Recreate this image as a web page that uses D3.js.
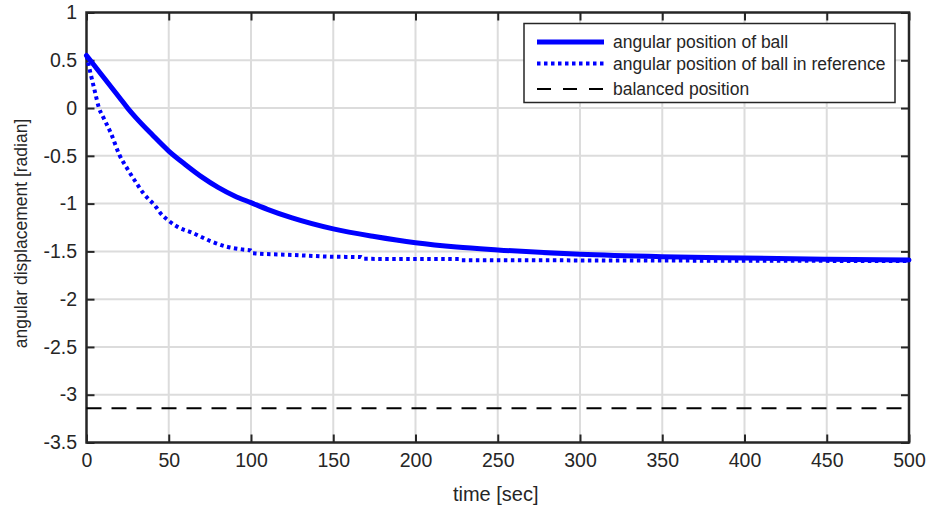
<!DOCTYPE html>
<html>
<head>
<meta charset="utf-8">
<title>angular position of ball</title>
<script src="https://d3js.org/d3.v7.min.js"></script>
<style>
  body { margin: 0; background: #fff; }
  text { font-family: "Liberation Sans", Arial, Helvetica, sans-serif; fill: #262626; }
</style>
</head>
<body>
<svg id="chart"></svg>
<script>
// values
var ballTime = [0, 10, 20, 25, 30, 40, 50, 60, 70, 80, 90, 100, 110, 125, 150, 175, 200, 225, 250, 300, 350, 400, 450, 500];
var ballAngle = [0.55, 0.33, 0.11, 0.0, -0.10, -0.28, -0.45, -0.59, -0.72, -0.83, -0.92, -0.99, -1.06, -1.15, -1.265, -1.345, -1.41, -1.455, -1.485, -1.53, -1.555, -1.57, -1.582, -1.59];

var refTime = [0, 2.5, 5, 7.6, 10, 15, 20, 25, 29, 35, 42, 45, 50, 55, 65, 75, 85, 95, 100, 101, 125, 148, 167, 168, 227, 228, 330, 400, 500];
var refAngle = [0.55, 0.36, 0.18, 0.0, -0.09, -0.27, -0.49, -0.64, -0.75, -0.90, -1.03, -1.10, -1.18, -1.24, -1.31, -1.39, -1.45, -1.48, -1.49, -1.52, -1.537, -1.555, -1.56, -1.578, -1.58, -1.592, -1.595, -1.598, -1.60];

var balanced = -Math.PI;

var xTicks = [0, 50, 100, 150, 200, 250, 300, 350, 400, 450, 500];
var yTicks = [1, 0.5, 0, -0.5, -1, -1.5, -2, -2.5, -3, -3.5];

var legendLabels = ["angular position of ball", "angular position of ball in reference", "balanced position"];

var W = 930, H = 511;
var margin = { top: 12.5, right: 21, bottom: 68.5, left: 86.5 };
var width = W - margin.left - margin.right,
    height = H - margin.top - margin.bottom;

var svg = d3.select("#chart").attr("width", W).attr("height", H);
var g = svg.append("g").attr("transform", "translate(" + margin.left + "," + margin.top + ")");

var x = d3.scaleLinear().domain([0, 500]).range([0, width]);
var y = d3.scaleLinear().domain([-3.5, 1]).range([height, 0]);

var axisColor = "#262626";

// grid
g.append("g").selectAll("line").data(xTicks.slice(1, -1)).enter().append("line")
  .attr("x1", d => x(d)).attr("x2", d => x(d)).attr("y1", 0).attr("y2", height)
  .attr("stroke", "#dcdcdc").attr("stroke-width", 2);
g.append("g").selectAll("line").data(yTicks.slice(1, -1)).enter().append("line")
  .attr("y1", d => y(d)).attr("y2", d => y(d)).attr("x1", 0).attr("x2", width)
  .attr("stroke", "#dcdcdc").attr("stroke-width", 2);

// axes (ticks inward on all four sides)
var tickLen = 8;
var xb = g.append("g").attr("transform", "translate(0," + height + ")")
  .call(d3.axisBottom(x).tickValues(xTicks).tickSize(-tickLen).tickPadding(11).tickFormat(d3.format("d")));
var xt = g.append("g")
  .call(d3.axisTop(x).tickValues(xTicks).tickSize(-tickLen).tickFormat(""));
var yl = g.append("g")
  .call(d3.axisLeft(y).tickValues(yTicks).tickSize(-tickLen).tickPadding(9.5).tickFormat(d => String(d)));
var yr = g.append("g").attr("transform", "translate(" + width + ",0)")
  .call(d3.axisRight(y).tickValues(yTicks).tickSize(-tickLen).tickFormat(""));

[xb, xt, yl, yr].forEach(function(a) {
  a.attr("font-family", null).attr("font-size", null);
  a.select(".domain").remove();
  a.selectAll(".tick line").attr("stroke", axisColor).attr("stroke-width", 2);
  a.selectAll(".tick text").style("font-size", "19.5px").attr("fill", axisColor);
});

// box
g.append("rect").attr("x", 0).attr("y", 0).attr("width", width).attr("height", height)
  .attr("fill", "none").attr("stroke", axisColor).attr("stroke-width", 2.5);

// data
var line = d3.line().x(d => x(d[0])).y(d => y(d[1])).curve(d3.curveMonotoneX);

g.append("line")
  .attr("x1", x(0)).attr("x2", x(500)).attr("y1", y(balanced)).attr("y2", y(balanced))
  .attr("stroke", "#000").attr("stroke-width", 2).attr("stroke-dasharray", "15,10");

g.append("path").datum(d3.zip(refTime, refAngle))
  .attr("d", line).attr("fill", "none").attr("stroke", "#0000ff")
  .attr("stroke-width", 4).attr("stroke-dasharray", "3.5,3.5");

g.append("path").datum(d3.zip(ballTime, ballAngle))
  .attr("d", line).attr("fill", "none").attr("stroke", "#0000ff")
  .attr("stroke-width", 5).attr("stroke-linejoin", "round").attr("stroke-linecap", "round");

// axis labels
svg.append("text").attr("x", margin.left + width / 2 - 2).attr("y", 501)
  .attr("text-anchor", "middle").style("font-size", "20px").text("time [sec]");
svg.append("text").attr("transform", "translate(27," + (margin.top + height / 2 + 6) + ") rotate(-90)")
  .attr("text-anchor", "middle").style("font-size", "17.5px").text("angular displacement [radian]");

// legend
var leg = svg.append("g").attr("transform", "translate(524,23.5)");
leg.append("rect").attr("width", 371).attr("height", 79)
  .attr("fill", "#fff").attr("stroke", axisColor).attr("stroke-width", 1.5);
var legStyles = [
  { w: 5, dash: null, color: "#0000ff" },
  { w: 4, dash: "3.5,3.5", color: "#0000ff" },
  { w: 2, dash: "14,12", color: "#000" }
];
var legY = [18.5, 40, 65.5];
legendLabels.forEach(function(lab, i) {
  var s = legStyles[i];
  leg.append("line").attr("x1", 13).attr("x2", 80).attr("y1", legY[i]).attr("y2", legY[i])
    .attr("stroke", s.color).attr("stroke-width", s.w).attr("stroke-dasharray", s.dash);
  leg.append("text").attr("x", 89).attr("y", legY[i]).attr("dy", "0.35em")
    .style("font-size", "17.5px").text(lab);
});
</script>
</body>
</html>
